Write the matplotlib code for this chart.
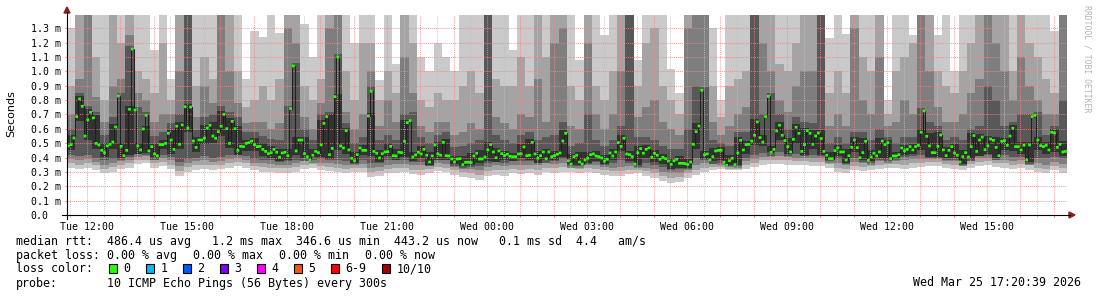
import numpy as np
import matplotlib
matplotlib.use("Agg")
import matplotlib.pyplot as plt
from matplotlib.patches import Rectangle, Polygon
from matplotlib.lines import Line2D

# median rtt in us, one value per 5 min step, starting Tue 11:24
median_us = [
    481, 490, 536, 685, 808, 757, 550, 662, 715, 676, 499, 488, 450, 434, 481, 492, 508, 613, 829, 478,
    413, 450, 736, 1156, 731, 481, 453, 599, 694, 446, 476, 425, 413, 490, 490, 499, 569, 522, 457, 618,
    492, 627, 754, 606, 752, 515, 471, 522, 522, 536, 606, 625, 550, 534, 580, 618, 701, 601, 499, 652,
    601, 450, 478, 476, 499, 504, 515, 490, 476, 478, 457, 443, 427, 434, 457, 437, 402, 432, 437, 413,
    741, 1038, 446, 522, 522, 427, 406, 383, 416, 443,
    434, 488, 638, 685, 420, 464, 824, 1100, 481, 467, 587, 453, 395, 378, 420, 467, 450, 450, 689, 861,
    443, 430, 397, 427, 439, 441, 478, 413, 411, 437, 434, 513, 643, 657, 404, 418, 437, 425, 457, 416,
    369, 411, 488, 425, 416, 506, 413, 411, 390, 369, 390, 392, 351, 367, 367, 365, 411, 430, 390, 390,
    404, 453, 490, 439, 399, 446, 427, 413, 423, 409, 406, 406, 425, 425, 474, 413, 416, 506, 425, 395,
    413, 439, 392, 439, 406, 413, 423, 432, 515, 569,
    378, 355, 406, 416, 369, 355, 383, 395, 420, 425, 411, 406, 397, 376, 388, 432, 411, 439, 504, 478,
    534, 425, 420, 406, 355, 434, 462, 430, 457, 467, 402, 430, 416, 388, 402, 392, 376, 353, 378, 388,
    360, 360, 358, 351, 369, 492, 580, 620, 868, 420, 425, 385, 406, 446, 450, 450, 367, 346, 378, 395,
    351, 432, 520, 453, 490, 492, 515, 555, 648, 539, 508, 685, 826, 437, 457, 585, 625, 555, 518, 476,
    439, 527, 611, 569, 443, 490, 587, 569, 492, 550,
    571, 532, 443, 416, 392, 392, 448, 467, 439, 439, 383, 413, 471, 522, 469, 399, 434, 513, 381, 404,
    430, 411, 439, 515, 490, 504, 392, 411, 411, 420, 467, 448, 457, 476, 453, 476, 485, 576, 724, 548,
    481, 434, 434, 478, 557, 453, 413, 450, 476, 432, 416, 369, 406, 434, 404, 476, 553, 443, 522, 543,
    455, 481, 529, 520, 471, 413, 513, 518, 485, 550, 604, 476, 476, 453, 485, 383, 488, 685, 694, 522,
    483, 476, 485, 453, 576, 571, 471, 492, 439, 443,
]

# smoke: the 10 pings (us) of each 15 min column
ping1 = [
    330, 320, 330, 315, 290, 300, 320, 330, 355, 360, 330, 340, 320, 270, 300, 315, 320, 310, 320, 330, 340, 330, 310, 300, 300, 290, 290, 300, 320, 330,
    310, 305, 300, 290, 300, 300, 265, 270, 290, 295, 300, 285, 280, 290, 305, 300, 280, 265, 255, 245, 270, 280, 275, 290, 285, 290, 280, 300, 295, 300,
    300, 295, 300, 290, 280, 275, 270, 285, 290, 275, 260, 235, 225, 230, 260, 280, 300, 310, 320, 320, 315, 320, 335, 350, 355, 355, 350, 345, 345, 340,
    340, 330, 300, 290, 310, 305, 310, 320, 330, 325, 320, 330, 335, 340, 340, 325, 320, 315, 330, 340, 345, 335, 330, 320, 325, 315, 300, 290, 310, 295,
]
ping2 = [
    365, 350, 360, 345, 320, 335, 350, 360, 380, 385, 360, 370, 350, 305, 335, 345, 350, 345, 350, 365, 370, 360, 340, 335, 330, 325, 325, 335, 350, 360,
    340, 335, 330, 320, 330, 330, 300, 305, 320, 325, 330, 315, 315, 320, 335, 330, 310, 300, 290, 280, 305, 315, 310, 320, 315, 320, 315, 330, 325, 335,
    325, 320, 325, 320, 310, 305, 305, 315, 315, 305, 290, 270, 260, 265, 290, 315, 330, 335, 345, 345, 340, 350, 365, 380, 385, 385, 380, 375, 375, 370,
    370, 355, 330, 320, 340, 335, 340, 350, 355, 355, 350, 360, 365, 370, 370, 355, 350, 345, 355, 370, 375, 365, 360, 350, 355, 345, 330, 320, 340, 325,
]
ping3 = [
    390, 385, 390, 370, 350, 360, 375, 385, 405, 410, 385, 395, 380, 340, 365, 375, 380, 370, 375, 390, 400, 385, 365, 360, 355, 350, 350, 360, 375, 385,
    365, 360, 355, 350, 355, 355, 330, 335, 350, 355, 355, 345, 345, 345, 360, 355, 335, 325, 320, 310, 335, 345, 340, 350, 345, 350, 345, 360, 355, 365,
    340, 340, 345, 345, 335, 330, 335, 340, 335, 330, 320, 300, 290, 295, 315, 345, 360, 355, 365, 335, 330, 375, 390, 405, 410, 410, 405, 400, 400, 395,
    395, 375, 360, 345, 370, 360, 360, 375, 375, 375, 380, 390, 390, 390, 390, 375, 375, 340, 375, 395, 400, 385, 385, 375, 380, 350, 360, 350, 370, 355,
]
ping4 = [
    420, 410, 420, 400, 380, 390, 400, 405, 425, 430, 405, 420, 405, 370, 390, 400, 410, 400, 405, 415, 420, 410, 390, 385, 380, 375, 375, 385, 395, 405,
    390, 385, 385, 375, 360, 385, 360, 365, 380, 380, 385, 370, 370, 340, 385, 380, 355, 340, 345, 340, 360, 370, 365, 375, 375, 375, 365, 380, 380, 390,
    355, 350, 365, 370, 355, 365, 380, 365, 345, 360, 350, 335, 315, 320, 330, 400, 385, 375, 380, 340, 345, 400, 420, 430, 440, 440, 425, 425, 420, 420,
    420, 385, 390, 365, 400, 380, 375, 395, 390, 395, 405, 410, 420, 400, 400, 395, 395, 355, 390, 410, 420, 395, 420, 405, 405, 370, 400, 400, 405, 400,
]
ping5 = [
    451, 655, 520, 458, 404, 462, 383, 420, 423, 416, 383, 460, 427, 462, 576, 441, 492, 504, 550, 469, 420, 446, 446, 413, 397, 372, 383, 416, 376, 353,
    404, 390, 451, 423, 348, 420, 413, 367, 409, 381, 404, 374, 395, 339, 386, 381, 339, 321, 335, 360, 374, 369, 383, 376, 395, 383, 365, 362, 376, 402,
    325, 325, 353, 376, 346, 381, 448, 376, 325, 400, 372, 358, 323, 330, 321, 462, 390, 355, 337, 316, 321, 423, 485, 478, 407, 525, 409, 497, 413, 462,
    413, 362, 409, 353, 439, 369, 351, 381, 362, 381, 418, 423, 455, 404, 404, 383, 386, 339, 374, 413, 425, 383, 455, 446, 423, 353, 453, 423, 441, 409,
]
ping6 = [
    556, 828, 735, 696, 501, 633, 500, 760, 500, 620, 496, 519, 589, 647, 774, 542, 626, 645, 721, 672, 621, 524, 535, 498, 477, 457, 460, 545, 542, 463,
    658, 705, 845, 607, 440, 487, 710, 450, 498, 457, 660, 440, 477, 436, 508, 526, 410, 412, 431, 450, 510, 466, 447, 429, 494, 526, 445, 459, 443, 589,
    426, 436, 440, 445, 417, 459, 554, 445, 482, 487, 450, 422, 398, 408, 389, 640, 445, 466, 470, 415, 540, 512, 668, 560, 480, 645, 538, 631, 607, 589,
    591, 436, 487, 459, 542, 533, 450, 535, 524, 440, 487, 496, 600, 568, 577, 473, 496, 454, 573, 563, 549, 540, 538, 624, 505, 510, 545, 505, 596, 512,
]
ping7 = [
    600, 850, 760, 720, 560, 680, 850, 1180, 750, 714, 550, 580, 640, 700, 1500, 590, 680, 700, 760, 720, 680, 580, 580, 550, 530, 520, 760, 1060, 600, 520,
    700, 720, 1120, 640, 500, 540, 900, 520, 560, 520, 700, 720, 540, 500, 560, 580, 470, 480, 500, 520, 1500, 560, 520, 500, 560, 580, 520, 540, 560, 650,
    480, 500, 700, 520, 480, 520, 620, 1500, 540, 540, 520, 480, 460, 460, 600, 900, 890, 520, 500, 480, 580, 580, 1500, 705, 850, 700, 600, 680, 650, 640,
    1500, 500, 540, 500, 580, 580, 520, 600, 540, 500, 540, 540, 744, 650, 620, 520, 540, 520, 600, 620, 900, 800, 620, 650, 700, 705, 714, 560, 620, 800,
]
ping8 = [
    700, 950, 1500, 820, 650, 900, 950, 1250, 850, 800, 650, 700, 700, 1000, 1500, 680, 900, 780, 1400, 1000, 780, 640, 650, 650, 600, 640, 1300, 1200, 680, 600,
    780, 1300, 1500, 720, 600, 700, 1000, 620, 800, 650, 1100, 850, 620, 580, 650, 650, 560, 580, 640, 600, 1500, 680, 640, 600, 700, 680, 950, 650, 1200, 1300,
    620, 600, 1200, 700, 600, 700, 1000, 1500, 680, 750, 800, 650, 600, 560, 1300, 1400, 1500, 650, 560, 620, 700, 750, 1500, 1200, 1000, 800, 720, 900, 1000, 1000,
    1500, 620, 700, 620, 1300, 800, 700, 1100, 620, 650, 800, 700, 1400, 1000, 750, 650, 650, 700, 850, 950, 1500, 1200, 1000, 800, 1100, 900, 800, 700, 700, 1400,
]
ping9 = [
    900, 1500, 1500, 1100, 800, 1500, 1200, 1400, 1000, 950, 850, 1200, 800, 1500, 1500, 900, 1100, 950, 1500, 1500, 1000, 750, 800, 900, 800, 950, 1500, 1500, 900, 800,
    950, 1500, 1500, 1000, 800, 1200, 1200, 800, 1000, 850, 1500, 1200, 800, 750, 850, 800, 800, 900, 1000, 850, 1500, 950, 900, 900, 1100, 900, 1500, 1100, 1500, 1500,
    900, 800, 1500, 900, 800, 1000, 1400, 1500, 900, 1200, 1300, 900, 800, 700, 1500, 1500, 1500, 900, 680, 900, 950, 1000, 1500, 1500, 1400, 1050, 1000, 1200, 1400, 1400,
    1500, 850, 1000, 850, 1500, 1100, 1000, 1500, 700, 1000, 1100, 1200, 1500, 1500, 1000, 900, 850, 1000, 1200, 1400, 1500, 1500, 1400, 1000, 1500, 1200, 1100, 950, 850, 1500,
]
ping10 = [
    1300, 1500, 1500, 1500, 1500, 1500, 1500, 1500, 1500, 1500, 1150, 1500, 950, 1500, 1500, 1500, 1500, 1500, 1500, 1500, 1500, 950, 1280, 1240, 1500, 1270, 1500, 1500, 1330, 1100,
    1500, 1500, 1500, 1500, 1200, 1500, 1500, 940, 1500, 1050, 1500, 1500, 1100, 1000, 1200, 1100, 1000, 1500, 1500, 1400, 1500, 1500, 1500, 1150, 1500, 1500, 1500, 1500, 1500, 1500,
    1500, 1080, 1500, 1500, 1250, 1500, 1500, 1500, 1080, 1500, 1500, 1500, 1020, 850, 1500, 1500, 1500, 1300, 800, 1500, 1500, 1500, 1500, 1500, 1500, 1500, 1500, 1500, 1500, 1500,
    1500, 1230, 1500, 1260, 1500, 1500, 1500, 1500, 800, 1500, 1500, 1250, 1500, 1500, 1250, 1500, 1000, 1500, 1500, 1500, 1500, 1500, 1500, 1500, 1500, 1500, 1500, 1500, 1280, 1500,
]

hour_labels = ["Tue 12:00", "Tue 15:00", "Tue 18:00", "Tue 21:00", "Wed 00:00",
               "Wed 03:00", "Wed 06:00", "Wed 09:00", "Wed 12:00", "Wed 15:00"]
ytick_vals = [0.0, 0.1, 0.2, 0.3, 0.4, 0.5, 0.6, 0.7, 0.8, 0.9, 1.0, 1.1, 1.2, 1.3]

rtt_line = "median rtt:  486.4 us avg   1.2 ms max  346.6 us min  443.2 us now   0.1 ms sd  4.4   am/s"
loss_line = [("packet loss:", 16), ("0.00 % avg", 106.7), ("0.00 % max", 193.3),
             ("0.00 % min", 279.3), ("0.00 % now", 365)]
loss_labels = ["0", "1", "2", "3", "4", "5", "6-9", "10/10"]
loss_colors = ["#26ff00", "#00b8ff", "#0059ff", "#7e00ff", "#ff00ff", "#ff5500", "#ff0000", "#a00000"]
loss_box_x = [109, 146, 183, 220, 257, 294, 331, 382]

W, H = 1097, 297
MONO = "DejaVu Sans Mono"
fig = plt.figure(figsize=(W / 100, H / 100), dpi=100)
ax = fig.add_axes([67 / W, 1 - 215 / H, 1000 / W, 200.5 / H])
t0 = -0.6
ax.set_xlim(t0, t0 + 30)
ax.set_ylim(0, 1.396)
for s in ax.spines.values():
    s.set_visible(False)

# smoke
pings = np.sort(np.array([ping1, ping2, ping3, ping4, ping5, ping6, ping7, ping8, ping9, ping10]), axis=0) / 1000.0
col_edges = t0 + np.arange(pings.shape[1] + 1) / 4.0
smoke_cols = ["#cacaca", "#a4a4a4", "#7e7e7e", "#585858", "#323232"]
for k, c in enumerate(smoke_cols):
    ax.stairs(pings[9 - k], col_edges, baseline=pings[k], fill=True, color=c, lw=0, zorder=1)

# median
med = np.array(median_us) / 1000.0
step_edges = t0 + np.arange(len(med) + 1) / 12.0
ax.stairs(med, step_edges, baseline=None, color="#202020", lw=0.75, zorder=3)
sw = 0.0095
ax.stairs(med + sw, step_edges, baseline=med - sw, fill=True, color="#26ff00", lw=0, zorder=4)

# grid
ax.set_xticks(np.arange(0, 30))
ax.set_xticks(np.arange(-0.5, 29.5), minor=True)
ax.set_xticklabels([hour_labels[h // 3] if h % 3 == 0 else "" for h in range(30)],
                   fontsize=7.1, family=MONO)
ax.set_yticks(ytick_vals[1:])
ax.set_yticklabels([])
ax.grid(which="major", color="#ff8080", alpha=0.75, lw=0.75, ls=(0, (1, 1)))
ax.grid(which="minor", axis="x", color="#c0c0c0", alpha=0.8, lw=0.75, ls=(0, (1, 1)))
ax.tick_params(axis="x", which="major", length=1.5, width=0.75, color="#ff8080", pad=3.5)
ax.tick_params(axis="x", which="minor", length=1.5, width=0.75, color="#c0c0c0")
ax.tick_params(axis="y", length=1.5, width=0.75, color="#ff8080")

ytr = ax.get_yaxis_transform()
for v in ytick_vals:
    lab = "0.0" if v == 0 else "%.1f m" % v
    ax.text(-36.3 / 1000, v, lab, transform=ytr, ha="left", va="center_baseline",
            fontsize=7.1, family=MONO)


def px(x, y):
    return x / W, 1 - y / H


# axes with arrows
arrow_col = "#8b1c1c"
fig.add_artist(Line2D([62 / W, 1070 / W], [1 - 215 / H] * 2, color="black", lw=0.8))
fig.add_artist(Line2D([67 / W] * 2, [1 - 219 / H, 1 - 12 / H], color="black", lw=0.8))
fig.add_artist(Polygon([px(1075, 215), px(1069, 212), px(1069, 218)], closed=True,
                       color=arrow_col, transform=fig.transFigure))
fig.add_artist(Polygon([px(67, 7), px(64, 13), px(70, 13)], closed=True,
                       color=arrow_col, transform=fig.transFigure))

fig.text(*px(11, 114), "Seconds", rotation=90, ha="center", va="center", fontsize=8, family="DejaVu Sans")
fig.text(*px(1087, 59), "RRDTOOL / TOBI OETIKER", rotation=-90, ha="center", va="center",
         fontsize=5.9, family=MONO, color="#b4b4b4")

# legend
LEG = 8.4
fig.text(*px(16, 241), rtt_line, ha="left", va="center", fontsize=LEG, family=MONO)
for s, x in loss_line:
    fig.text(*px(x, 255.3), s, ha="left", va="center", fontsize=LEG, family=MONO)
fig.text(*px(16, 268.7), "loss color:", ha="left", va="center", fontsize=LEG, family=MONO)
for lab, c, x in zip(loss_labels, loss_colors, loss_box_x):
    fig.add_artist(Rectangle(px(x, 273.2), 8 / W, 9 / H, facecolor=c, edgecolor="black",
                             lw=0.8, transform=fig.transFigure))
    fig.text(*px(x + 14.5, 268.7), lab, ha="left", va="center", fontsize=LEG, family=MONO)
fig.text(*px(16, 283), "probe:", ha="left", va="center", fontsize=LEG, family=MONO)
fig.text(*px(106.7, 283), "10 ICMP Echo Pings (56 Bytes) every 300s", ha="left", va="center",
         fontsize=LEG, family=MONO)
fig.text(*px(1081, 283), "Wed Mar 25 17:20:39 2026", ha="right", va="center", fontsize=LEG, family=MONO)

fig.savefig("out.png", dpi=100)
